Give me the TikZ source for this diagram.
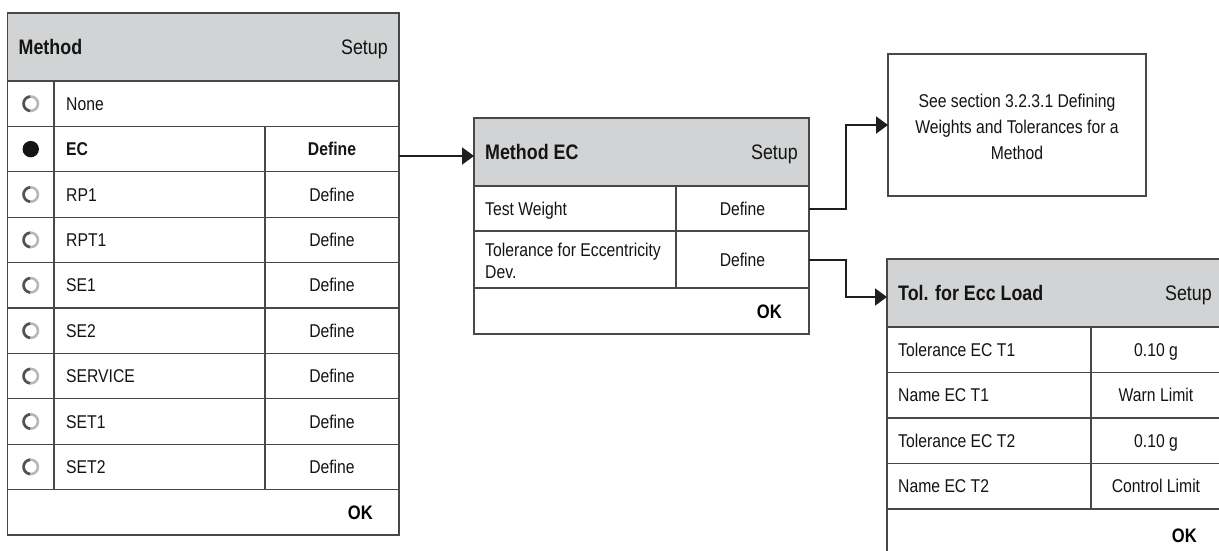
\documentclass[tikz,border=0pt]{standalone}
\usepackage{fontspec}
\setmainfont{Liberation Sans}[FakeStretch=0.85]
\usetikzlibrary{arrows.meta}
\definecolor{bc}{RGB}{72,72,72}
\definecolor{hd}{RGB}{209,211,212}
\definecolor{tx}{RGB}{20,20,20}
\newcommand\radioempty[1]{%
  \draw[line width=2.6pt, black!28] (#1) circle[radius=7.2];
  \draw[line width=2.6pt, black!68] (#1) ++(95:7.2) arc[start angle=95,end angle=265,radius=7.2];}
\newcommand\radiofull[1]{\fill[black!92] (#1) circle[radius=8.2];}
\tikzset{
  cellbox/.style={draw=bc, line width=1.3pt, inner sep=0pt, outer sep=0pt, anchor=north west},
  hdcell/.style={cellbox, fill=hd},
  txt/.style={inner sep=0pt, text=tx, font=\fontsize{18.5}{22}\selectfont, text height=13.2pt, text depth=0pt},
  btxt/.style={txt, font=\fontsize{18.5}{22}\selectfont\bfseries},
  hdtxt/.style={inner sep=0pt, text=tx, font=\fontsize{21}{24}\selectfont, text height=15pt, text depth=0pt},
  hdbtxt/.style={hdtxt, font=\fontsize{21}{24}\selectfont\bfseries},
  oktxt/.style={inner sep=0pt, text=black, font=\fontsize{19.5}{22}\selectfont\bfseries, text height=14pt, text depth=0pt},
  conn/.style={draw=black!88, line width=2pt, -{Triangle[length=12pt,width=17pt]}},
}
\newcommand\cell[6][cellbox]{\node[#1, minimum width={(#5)-(#3)}, minimum height={(#6)-(#4)}] (#2) at (#3,#4) {};}
\begin{document}
\begin{tikzpicture}[x=1pt,y=-1pt]
\useasboundingbox (0,0) rectangle (1219,550);
\clip (0,0) rectangle (1219,550);
\fill[white] (0,0) rectangle (1219,550);

% ---------------- left panel ----------------
\cell[hdcell]{L0}{7.5}{13}{399}{81}
\node[hdbtxt, anchor=west] (tL0a) at ([xshift=11pt]L0.west) {Method};
\node[hdtxt, anchor=east] (tL0b) at ([xshift=-11pt]L0.east) {Setup};
% None row
\cell{Lr1}{7.5}{81}{54}{126.4}
\cell{Ll1}{54}{81}{399}{126.4}
\radioempty{Lr1.center}
\node[txt, anchor=west] (tNone) at ([xshift=12pt]Ll1.west) {None};
% EC row
\cell{Lr2}{7.5}{126.4}{54}{171.8}
\cell{Ll2}{54}{126.4}{265}{171.8}
\cell{Ld2}{265}{126.4}{399}{171.8}
\radiofull{Lr2.center}
\node[btxt, anchor=west] (tEC) at ([xshift=12pt]Ll2.west) {EC};
\node[btxt] (tECd) at (Ld2.center) {Define};
% other rows
\foreach \nm [count=\i from 3] in {RP1,RPT1,SE1,SE2,SERVICE,SET1,SET2}{
  \pgfmathsetmacro\ya{81+(\i-1)*45.4}
  \pgfmathsetmacro\yb{81+\i*45.4}
  \cell{Lr\i}{7.5}{\ya}{54}{\yb}
  \cell{Ll\i}{54}{\ya}{265}{\yb}
  \cell{Ld\i}{265}{\ya}{399}{\yb}
  \radioempty{Lr\i.center}
  \node[txt, anchor=west] (tL\i) at ([xshift=12pt]Ll\i.west) {\nm};
  \node[txt] (tD\i) at (Ld\i.center) {Define};
}
\cell{Lok}{7.5}{489.6}{399}{535}
\node[oktxt, anchor=east] (tLok) at ([xshift=-26pt]Lok.east) {OK};

% ---------------- middle panel ----------------
\cell[hdcell]{M0}{474}{118}{809}{186}
\node[hdbtxt, anchor=west] (tM0a) at ([xshift=11pt]M0.west) {Method EC};
\node[hdtxt, anchor=east] (tM0b) at ([xshift=-11pt]M0.east) {Setup};
\cell{Ml1}{474}{186}{676}{231}
\cell{Md1}{676}{186}{809}{231}
\node[txt, anchor=west] (tTW) at ([xshift=11pt]Ml1.west) {Test Weight};
\node[txt] (tMd1) at (Md1.center) {Define};
\cell{Ml2}{474}{231}{676}{288}
\cell{Md2}{676}{231}{809}{288}
\node[inner sep=0pt, text=tx, font=\fontsize{18.5}{22}\selectfont, align=left, anchor=west] (tTol) at ([xshift=11pt,yshift=-1pt]Ml2.west) {Tolerance for Eccentricity\\Dev.};
\node[txt] (tMd2) at (Md2.center) {Define};
\cell{Mok}{474}{288}{809}{334}
\node[oktxt, anchor=east] (tMok) at ([xshift=-27pt]Mok.east) {OK};

% ---------------- reference box ----------------
\cell{See}{888}{54}{1146}{196}
\node[inner sep=0pt, text=tx, font=\fontsize{18.5}{26}\selectfont, align=center] (tSee) at ([yshift=-2pt]See.center) {See section 3.2.3.1 Defining\\Weights and Tolerances for a\\Method};

% ---------------- right panel ----------------
\cell[hdcell]{R0}{887}{259}{1221}{327}
\node[hdbtxt, anchor=west] (tR0a) at ([xshift=11pt]R0.west) {Tol. for Ecc Load};
\node[hdtxt, anchor=east] (tR0b) at ([xshift=-9pt]R0.east) {Setup};
\foreach \lab/\val [count=\i] in {Tolerance EC T1/0.10 g, Name EC T1/Warn Limit, Tolerance EC T2/0.10 g, Name EC T2/Control Limit}{
  \pgfmathsetmacro\ya{327+(\i-1)*45.5}
  \pgfmathsetmacro\yb{327+\i*45.5}
  \cell{Rl\i}{887}{\ya}{1091}{\yb}
  \cell{Rv\i}{1091}{\ya}{1221}{\yb}
  \node[txt, anchor=west] (tRl\i) at ([xshift=11pt]Rl\i.west) {\lab};
  \node[txt] (tRv\i) at (Rv\i.center) {\val};
}
\cell{Rok}{887}{509}{1221}{556}
\node[oktxt, anchor=east] (tRok) at ([xshift=-24pt,yshift=-3pt]Rok.east) {OK};

% ---------------- connectors ----------------
\coordinate (a1) at (399,156);
\draw[conn] (a1) -- (M0.west |- a1);
\coordinate (k1) at (846,0);
\draw[conn] (Md1.east) -| (k1 |- See.west) -- (See.west);
\coordinate (a3) at (887,297);
\draw[conn] (Md2.east) -| (k1 |- a3) -- (a3);
\end{tikzpicture}
\end{document}
